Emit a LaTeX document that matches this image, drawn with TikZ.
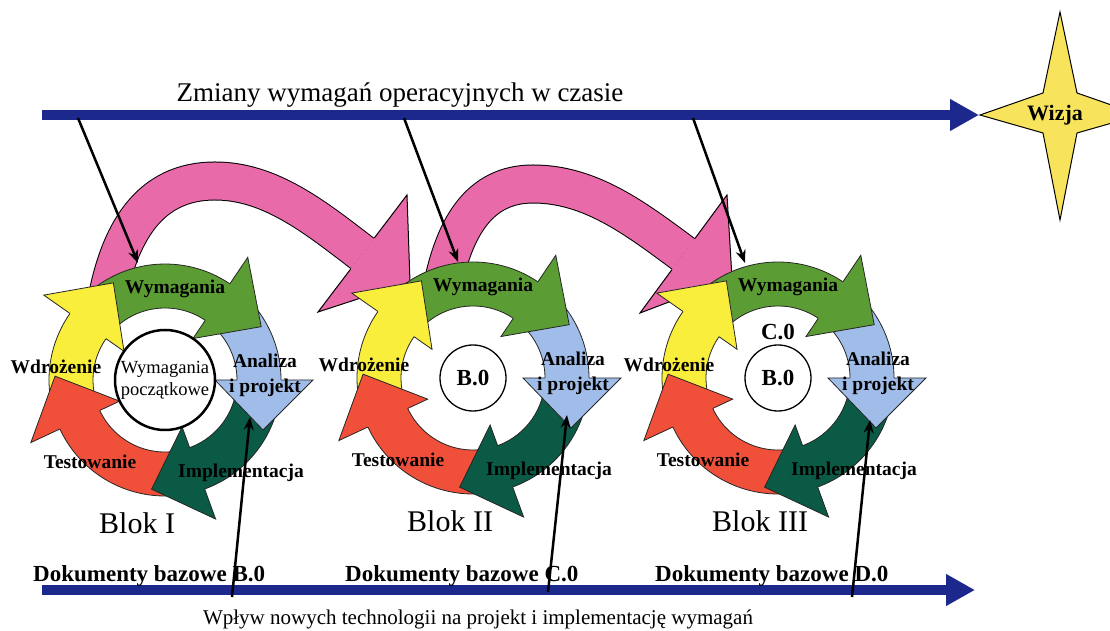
\documentclass[tikz,border=0pt]{standalone}
\usepackage{fontspec}
\setmainfont{Liberation Serif}
\usetikzlibrary{arrows.meta}

\definecolor{granat}{RGB}{28,40,140}
\definecolor{roz}{RGB}{232,106,168}
\definecolor{ziel}{RGB}{92,156,52}
\definecolor{nieb}{RGB}{160,188,232}
\definecolor{ciemnoziel}{RGB}{10,90,70}
\definecolor{czerw}{RGB}{240,80,58}
\definecolor{zolty}{RGB}{250,238,60}
\definecolor{gwiazda}{RGB}{247,228,92}

\tikzset{
  seg/.style={draw=black!85, line width=0.8pt},
  etyk/.style={font=\bfseries\fontsize{19.5}{25}\selectfont, inner sep=0pt, align=center},
  blok/.style={font=\fontsize{30}{32}\selectfont, inner sep=0pt, anchor=base west},
  dok/.style={font=\bfseries\fontsize{23}{25}\selectfont, inner sep=0pt, anchor=base west},
  opis/.style={font=\fontsize{27}{29}\selectfont, inner sep=0pt, anchor=base},
  os/.style={granat, line width=10pt, -{Triangle[length=29pt,width=30pt]}},
  strz/.style={line width=2.5pt, -{Stealth[length=13pt,width=10pt]}},
  rozowa/.style={draw=black, line width=1pt, double=roz, double distance=37pt},
  rozgrot/.style={fill=roz, draw=black, line width=1pt},
  srodek/.style={circle, draw, fill=white, inner sep=0pt},
}

\newcommand{\luk}[3]{%
  \filldraw[seg, fill=#1] (#2:116) arc[start angle=#2, end angle=#3-3, radius=116]
    -- ({#3-3}:72) arc[start angle=#3-3, end angle=#2, radius=72] -- cycle;}
\newcommand{\grot}[2]{%
  \filldraw[seg, fill=#1] (#2:72) -- (#2:50) -- ({#2-27}:110) -- (#2:148) -- (#2:116);}

\begin{document}
\begin{tikzpicture}[x=1pt,y=1pt]
    \useasboundingbox (0,0) rectangle (1110,631);

    \draw[rozowa] (105,321) .. controls (118,400) and (150,450) .. (215,450)
        .. controls (270,450) and (315,414) .. (362.5,377.5);
    \filldraw[rozgrot] (350.7,362) -- (318,319) -- (410,349) -- (407,436) -- (374.3,393);
    \draw[rozowa] (440,331) .. controls (452,405) and (480,447) .. (533,447)
        .. controls (590,447) and (635,413) .. (683.5,377);
    \filldraw[rozgrot] (671.9,361.3) -- (640,318) -- (732,353) -- (727,436) -- (695.1,392.7);

    \foreach \cx/\cy/\n/\r in {165/251/1/I, 473/253/2/II, 778/253/3/III}{
    \begin{scope}[shift={(\cx,\cy)}]
        \luk{ziel}{140}{56}
        \luk{nieb}{51}{0}
        \luk{ciemnoziel}{-5}{-70}
        \luk{czerw}{-75}{-155}
        \luk{zolty}{200}{145}
        \grot{ziel}{56}
        \grot{nieb}{0}
        \grot{ciemnoziel}{-70}
        \grot{czerw}{205}
        \grot{zolty}{145}
        \node[etyk] (wym\n) at (10,91) {Wymagania};
        \node[etyk] (ana\n) at (100,5) {Analiza\\i projekt};
        \node[etyk] (wdr\n) at (-109,13) {Wdrożenie};
        \node[etyk] (tes\n) at (-75,-82) {Testowanie};
        \node[etyk] (imp\n) at (76,-93) {Implementacja};
        \node[blok] (blok\n) at (-66,-154) {Blok \r};
    \end{scope}
    }

    \node[srodek, line width=2.5pt, minimum size=100pt,
        font=\fontsize{18.5}{22}\selectfont, align=center] (pocz) at (165,251) {Wymagania\\początkowe};
    \node[srodek, line width=1.3pt, minimum size=66pt, font=\bfseries\fontsize{23}{25}\selectfont] (b2) at (473,253) {B.0};
    \node[srodek, line width=1.3pt, minimum size=66pt, font=\bfseries\fontsize{23}{25}\selectfont] (b3) at (778,253) {B.0};
    \node[font=\bfseries\fontsize{23}{25}\selectfont, inner sep=0pt] (c3) at (778,299) {C.0};

    \draw[fill=gwiazda, line width=1pt] (980,516) -- (1043,538) -- (1060,619) -- (1077,538)
        -- (1140,516) -- (1077,498) -- (1060,411) -- (1043,498) -- cycle;
    \node[font=\bfseries\fontsize{22}{24}\selectfont] (wizja) at (1055,516) {Wizja};

    \coordinate (gora) at (42,516);
    \coordinate (gwiazdaL) at (979,516);
    \coordinate (dol) at (42,41);
    \coordinate (dolK) at (975,41);
    \draw[os] (gora) -- (gwiazdaL);
    \draw[os] (dol) -- (dolK);

    \node[opis] (zmiany) at (400,529) {Zmiany wymagań operacyjnych w czasie};
    \node[opis, font=\fontsize{21}{23}\selectfont] (wplyw) at (478,6) {Wpływ nowych technologii na projekt i implementację wymagań};

    \node[dok] (dokB) at (33,49) {Dokumenty bazowe B.0};
    \node[dok] (dokC) at (345,49) {Dokumenty bazowe C.0};
    \node[dok] (dokD) at (655,49) {Dokumenty bazowe D.0};

    \coordinate (z1) at (78,513);
    \coordinate (z2) at (404,513);
    \coordinate (z3) at (693,513);
    \coordinate (w1) at (138,368);
    \coordinate (w2) at (458,369);
    \coordinate (w3) at (745,368);
    \coordinate (t1) at (232,34);
    \coordinate (t2) at (548,39);
    \coordinate (t3) at (852,34);
    \coordinate (a1) at (250,214);
    \coordinate (a2) at (567,216);
    \coordinate (a3) at (870,211);
    \draw[strz] (z1) -- (w1);
    \draw[strz] (z2) -- (w2);
    \draw[strz] (z3) -- (w3);
    \draw[strz] (t1) -- (a1);
    \draw[strz] (t2) -- (a2);
    \draw[strz] (t3) -- (a3);

\end{tikzpicture}
\end{document}
